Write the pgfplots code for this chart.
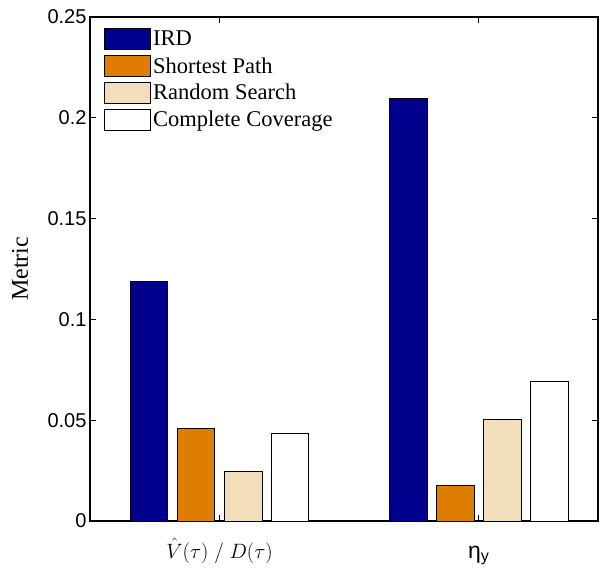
\documentclass[border=0pt]{standalone}
\usepackage{pgfplots}
\pgfplotsset{compat=1.18}
\usepackage{fontspec}
\setmainfont{Liberation Serif}
\setsansfont{Liberation Sans}

\definecolor{ird}{RGB}{0,0,140}
\definecolor{sp}{RGB}{222,125,0}
\definecolor{rs}{RGB}{243,222,187}

\begin{document}
\begin{tikzpicture}
\begin{axis}[
    scale only axis,
    width=508pt, height=504pt,
    xmin=0.5, xmax=2.46,
    ymin=0, ymax=0.25,
    xtick={1,2},
    xticklabels={{$\hat{V}(\tau)\;/\;D(\tau)$}, {\sffamily\fontsize{23}{26}\selectfont η\textsubscript{y}}},
    ytick={0,0.05,0.1,0.15,0.2,0.25},
    scaled y ticks=false,
    yticklabel style={/pgf/number format/fixed, /pgf/number format/precision=2,
        /pgf/number format/assume math mode=true, font=\sffamily\fontsize{20}{24}\selectfont},
    xticklabel style={font=\fontsize{20}{24}\selectfont, anchor=base, yshift=-37pt},
    tick align=inside,
    major tick length=6pt,
    tick style={black, line width=1pt},
    axis line style={line width=1.3pt},
    legend style={draw=none, fill=none, at={(rel axis cs:0.022,0.982)}, anchor=north west,
        font=\fontsize{22.5}{26}\selectfont, row sep=5pt,
        /tikz/every even column/.append style={column sep=8pt}},
    legend cell align=left,
    legend image code/.code={\draw[#1, line width=0.8pt] (0pt,-10.5pt) rectangle (46pt,10.5pt);},
]
\addplot[ybar, bar width=0.145, bar shift=-0.272, fill=ird, draw=black, line width=0.8pt]
    coordinates {(1,0.119) (2,0.2095)};
\addlegendentry{IRD}
\addplot[ybar, bar width=0.145, bar shift=-0.091, fill=sp, draw=black, line width=0.8pt]
    coordinates {(1,0.046) (2,0.0178)};
\addlegendentry{Shortest Path}
\addplot[ybar, bar width=0.145, bar shift=0.091, fill=rs, draw=black, line width=0.8pt]
    coordinates {(1,0.0245) (2,0.0503)};
\addlegendentry{Random Search}
\addplot[ybar, bar width=0.145, bar shift=0.272, fill=white, draw=black, line width=0.8pt]
    coordinates {(1,0.0435) (2,0.0692)};
\addlegendentry{Complete Coverage}
\end{axis}
% y label
\node[rotate=90, font=\fontsize{24}{28}\selectfont] at (-70pt,252pt) {Metric};
% white margin as in the reference
\path (-90pt,-47pt) rectangle (522pt,521pt);
\end{tikzpicture}
\end{document}
